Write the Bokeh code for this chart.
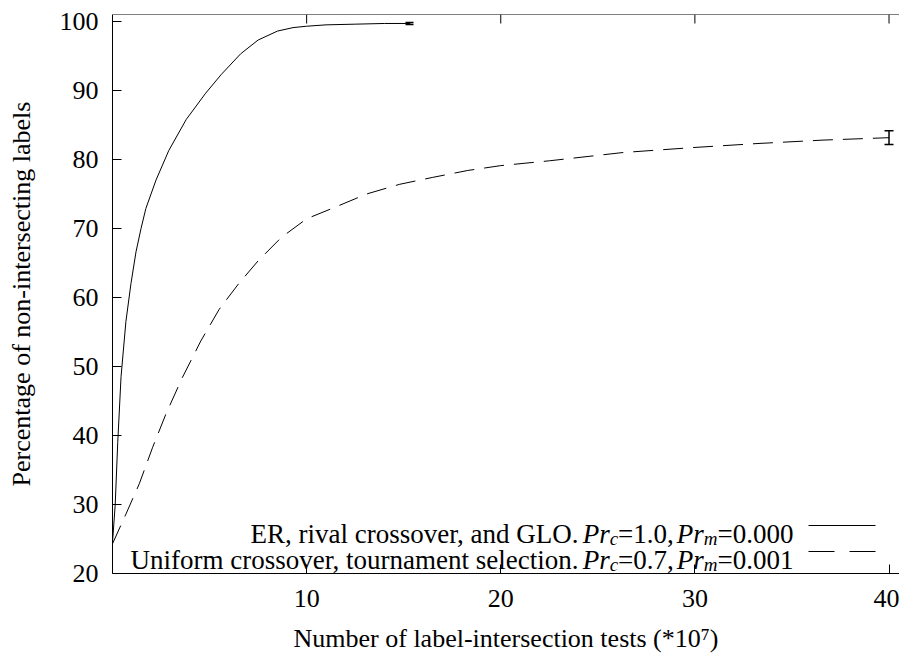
from bokeh.plotting import figure
from bokeh.models import (Range1d, FixedTicker, Label, ColumnDataSource,
                          Whisker, TeeHead, Span)
from bokeh.embed import file_html
from bokeh.resources import INLINE

# ---------------- data ----------------
er_x = [0, 0.14, 0.27, 0.44, 0.69, 0.95, 1.21, 1.47, 1.72, 2.24, 2.9, 3.8, 4.8,
        5.6, 6.6, 7.5, 8.5, 9.3, 10.0, 11.0, 12.5, 14.0, 15.3]
er_y = [24.5, 30.0, 39.0, 48.5, 56.5, 62.0, 66.6, 70.0, 72.9, 77.0, 81.3, 85.8, 89.6,
        92.3, 95.3, 97.3, 98.6, 99.1, 99.3, 99.5, 99.6, 99.7, 99.7]
er_err_x = [15.3]
er_err_y = [99.7]
er_err = [0.15]

uni_x = [0, 0.69, 1.38, 2.07, 2.75, 3.6, 4.55, 5.5, 6.5, 7.5, 8.7, 10.0, 11.4, 13.1,
         14.8, 16.5, 18.3, 20.0, 22.5, 26.3, 29.8, 33.2, 36.6, 40.0]
uni_y = [24.3, 28.6, 33.0, 38.3, 43.1, 48.4, 53.7, 58.3, 62.0, 65.3, 68.7, 71.4, 73.0,
         75.0, 76.4, 77.4, 78.4, 79.1, 79.8, 81.0, 81.7, 82.3, 82.8, 83.15]
uni_err_x = [40.0]
uni_err_y = [83.15]
uni_err = [1.0]

x_ticks = [10, 20, 30, 40]
y_ticks = [20, 30, 40, 50, 60, 70, 80, 90, 100]

x_title = "Number of label-intersection tests (*10\u2077)"
y_title = "Percentage of non-intersecting labels"

legend_rows = [
    [("ER, rival crossover, and GLO.", "n"), (None, 3), ("Pr", "i"), ("c", "s"),
     ("=1.0,", "n"), (None, 3), ("Pr", "i"), ("m", "s"), ("=0.000", "n")],
    [("Uniform crossover, tournament selection.", "n"), (None, 3), ("Pr", "i"), ("c", "s"),
     ("=0.7,", "n"), (None, 3), ("Pr", "i"), ("m", "s"), ("=0.001", "n")],
]

# ---------------- layout ----------------
W, H = 899, 657
FL, FR, FT, FB = 112, 899, 14, 573
XMIN, XMAX = 0.0, 40.54
YMIN, YMAX = 20.0, 101.0
FONT = "Liberation Serif"
FS = 26
FS_LEG = 27
FS_SUB = 19
TICK = 9

def px2x(px):
    return XMIN + (px - FL) / (FR - FL) * (XMAX - XMIN)

def py2y(py):
    return YMAX - (py - FT) / (FB - FT) * (YMAX - YMIN)

W_N = {' ': 250, ',': 250, '.': 250, '-': 333, '=': 564, '(': 333, ')': 333, '*': 500,
       'A': 722, 'E': 611, 'G': 722, 'L': 611, 'N': 722, 'O': 722, 'R': 667, 'U': 722,
       'P': 556,
       'a': 444, 'b': 500, 'c': 444, 'd': 500, 'e': 444, 'f': 333, 'g': 500, 'h': 500,
       'i': 278, 'l': 278, 'm': 778, 'n': 500, 'o': 500, 'p': 500, 'r': 333, 's': 389,
       't': 278, 'u': 500, 'v': 500}
W_I = {'P': 611, 'r': 389, 'c': 444, 'm': 722}

def tw(s, size, italic=False):
    tot = 0
    for ch in s:
        if ch.isdigit():
            tot += 500
        elif italic and ch in W_I:
            tot += W_I[ch]
        else:
            tot += W_N.get(ch, 500)
    return tot / 1000.0 * size

def piece_style(st):
    # size, italic, baseline shift (px, + = down)
    if st == "s":
        return FS_SUB, True, 5
    return FS_LEG, st == "i", 0

def width_of(pieces):
    total = 0
    for txt, st in pieces:
        if txt is None:
            total += st
        else:
            size, italic, _ = piece_style(st)
            total += tw(txt, size, italic)
    return total

def draw_pieces(p, pieces, start_px, base_px):
    cur = start_px
    for txt, st in pieces:
        if txt is None:
            cur += st
            continue
        size, italic, dy = piece_style(st)
        p.add_layout(Label(x=px2x(cur), y=py2y(base_px + dy), text=txt, text_align="left",
                           text_baseline="alphabetic", text_font=FONT,
                           text_font_size=f"{size}px",
                           text_font_style="italic" if italic else "normal",
                           text_color="black"))
        cur += tw(txt, size, italic)

p = figure(width=W, height=H, output_backend="svg", toolbar_location=None,
           x_range=Range1d(XMIN, XMAX), y_range=Range1d(YMIN, YMAX),
           min_border_left=FL, min_border_right=W - FR, min_border_top=FT,
           min_border_bottom=H - FB, x_axis_label=x_title, y_axis_label=y_title)
p.outline_line_color = None
p.grid.visible = False
p.background_fill_color = "white"
p.border_fill_color = "white"

for ax in (p.xaxis[0], p.yaxis[0]):
    ax.major_tick_in = TICK
    ax.major_tick_out = 0
    ax.minor_tick_line_color = None
    ax.axis_line_color = "black"
    ax.axis_line_width = 1
    ax.major_tick_line_color = "black"
    ax.major_label_text_font = FONT
    ax.major_label_text_font_size = f"{FS}px"
    ax.major_label_text_color = "black"
    ax.axis_label_text_font = FONT
    ax.axis_label_text_font_size = f"{FS}px"
    ax.axis_label_text_font_style = "normal"
    ax.axis_label_text_color = "black"

p.xaxis[0].ticker = FixedTicker(ticks=x_ticks)
p.yaxis[0].ticker = FixedTicker(ticks=y_ticks)
p.xaxis[0].major_label_standoff = 16
p.xaxis[0].axis_label_standoff = 14
p.yaxis[0].major_label_standoff = 14
p.yaxis[0].axis_label_standoff = 21

# top border with inward ticks (no labels)
p.add_layout(Span(location=YMAX, dimension="width", line_color="black", line_width=1))
tick_len = (YMAX - YMIN) * TICK / (FB - FT)
p.segment(x0=x_ticks, y0=[YMAX] * len(x_ticks), x1=x_ticks,
          y1=[YMAX - tick_len] * len(x_ticks), line_color="black", line_width=1)

# curves
p.line(er_x, er_y, line_color="black", line_width=1)
p.line(uni_x, uni_y, line_color="black", line_width=1, line_dash="20 10")

# error bars
for xs, ys, es, hs in ((er_err_x, er_err_y, er_err, 8), (uni_err_x, uni_err_y, uni_err, 9)):
    src = ColumnDataSource(dict(x=xs, upper=[y + e for y, e in zip(ys, es)],
                                lower=[y - e for y, e in zip(ys, es)]))
    wk = Whisker(source=src, base="x", upper="upper", lower="lower", dimension="height",
                 line_color="black", line_width=1.5,
                 upper_head=TeeHead(size=hs, line_color="black", line_width=1.5),
                 lower_head=TeeHead(size=hs, line_color="black", line_width=1.5))
    p.add_layout(wk)

# legend (text built from pieces, right aligned)
RX = 793
baselines = [533, 559]
sample_x0, sample_x1 = 808, 875
dashes = ["solid", "26 15"]
for row, base, dash in zip(legend_rows, baselines, dashes):
    draw_pieces(p, row, RX - width_of(row), base)
    cy = py2y(base - 8)
    p.segment(x0=[px2x(sample_x0)], y0=[cy], x1=[px2x(sample_x1)], y1=[cy],
              line_color="black", line_width=1, line_dash=dash)

open("out.html", "w").write(file_html(p, INLINE))
